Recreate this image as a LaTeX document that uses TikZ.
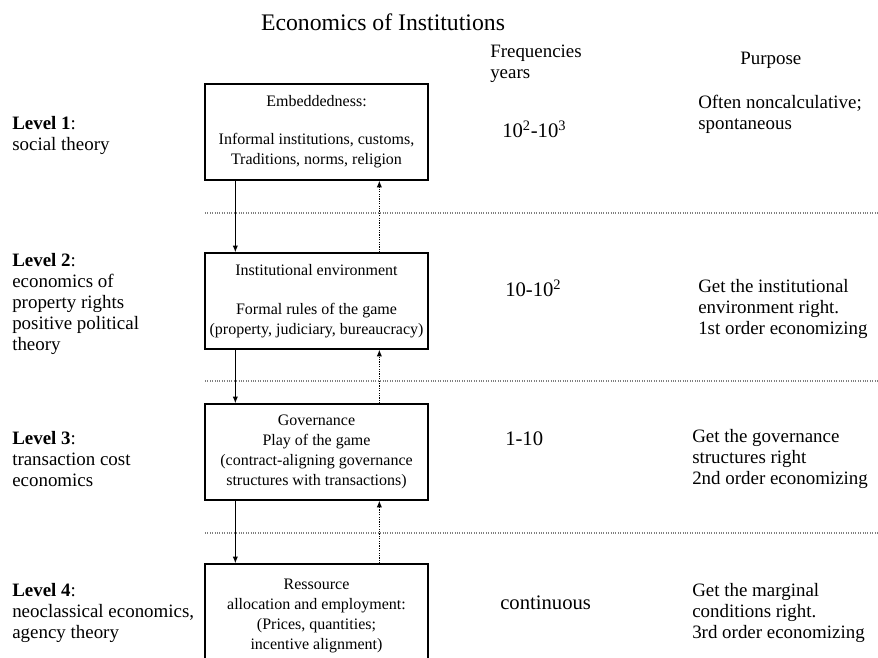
\documentclass[tikz,border=0pt]{standalone}
\usepackage{fontspec}
\setmainfont{Liberation Serif}
\usetikzlibrary{arrows.meta}

\begin{document}
\begin{tikzpicture}[x=0.75pt, y=-0.75pt,
    box/.style={draw, line width=1pt, rectangle, minimum width=167.25pt, minimum height=72pt, align=center, inner sep=0pt, font=\fontsize{12}{15}\selectfont},
    side/.style={anchor=north west, align=left, inner sep=0pt, font=\fontsize{14.2}{15.75}\selectfont},
    freq/.style={anchor=north west, inner sep=0pt, font=\fontsize{15.5}{18}\selectfont},
    sep/.style={gray, densely dotted, line width=0.8pt}]
        \useasboundingbox (0,0) rectangle (878,657);

        % Header
        \node[inner sep=0pt, font=\fontsize{17.8}{21}\selectfont] (title) at (383,22) {Economics of Institutions};
        \node[side] (freqhead) at (490,45) {Frequencies\\years};
        \node[side] (purphead) at (740,52) {Purpose};

        % Boxes
        \node[box] (emb) at (316.5,132) {Embeddedness:\\[13.5pt]Informal institutions, customs,\\Traditions, norms, religion};
        \node[box] (inst) at (316.5,301) {Institutional environment\\[14pt]Formal rules of the game\\(property, judiciary, bureaucracy)};
        \node[box] (gov) at (316.5,452) {Governance\\Play of the game\\(contract-aligning governance\\structures with transactions)};
        \node[box, minimum height=78pt] (alloc) at (316.5,616) {Ressource\\allocation and employment:\\(Prices, quantities;\\incentive alignment)};

        % Levels
        \node[side] (lvl1) at (12,116) {\textbf{Level 1}:\\social theory};
        \node[side] (lvl2) at (12,253) {\textbf{Level 2}:\\economics of\\property rights\\positive political\\theory};
        \node[side] (lvl3) at (12,431) {\textbf{Level 3}:\\transaction cost\\economics};
        \node[side] (lvl4) at (12,583) {\textbf{Level 4}:\\neoclassical economics,\\agency theory};

        % Frequencies
        \node[freq] (freq1) at (502,121) {10\textsuperscript{2}-10\textsuperscript{3}};
        \node[freq] (freq2) at (505,280) {10-10\textsuperscript{2}};
        \node[freq] (freq3) at (505,431) {1-10};
        \node[freq] (freq4) at (500,596) {continuous};

        % Purpose
        \node[side] (purp1) at (698,95) {Often noncalculative;\\spontaneous};
        \node[side] (purp2) at (698,279) {Get the institutional\\environment right.\\1st order economizing};
        \node[side] (purp3) at (692,429) {Get the governance\\structures right\\2nd order economizing};
        \node[side] (purp4) at (692,583) {Get the marginal\\conditions right.\\3rd order economizing};

        % Separators
        \draw[sep] (205,213) -- (878,213);
        \draw[sep] (205,381) -- (878,381);
        \draw[sep] (205,533) -- (878,533);

        % Edges
        \draw[line width=0.9pt, -{Latex[length=5pt,width=4pt]}] ([xshift=23.25pt]emb.south west) -- ([xshift=23.25pt]inst.north west);
        \draw[line width=0.9pt, -{Latex[length=5pt,width=4pt]}] ([xshift=23.25pt]inst.south west) -- ([xshift=23.25pt]gov.north west);
        \draw[line width=0.9pt, -{Latex[length=5pt,width=4pt]}] ([xshift=23.25pt]gov.south west) -- ([xshift=23.25pt]alloc.north west);
        \draw[densely dotted, line width=0.8pt, -{Latex[length=5pt,width=4pt]}] ([xshift=131.25pt]inst.north west) -- ([xshift=131.25pt]emb.south west);
        \draw[densely dotted, line width=0.8pt, -{Latex[length=5pt,width=4pt]}] ([xshift=131.25pt]gov.north west) -- ([xshift=131.25pt]inst.south west);
        \draw[densely dotted, line width=0.8pt, -{Latex[length=5pt,width=4pt]}] ([xshift=131.25pt]alloc.north west) -- ([xshift=131.25pt]gov.south west);
    \end{tikzpicture}
\end{document}
